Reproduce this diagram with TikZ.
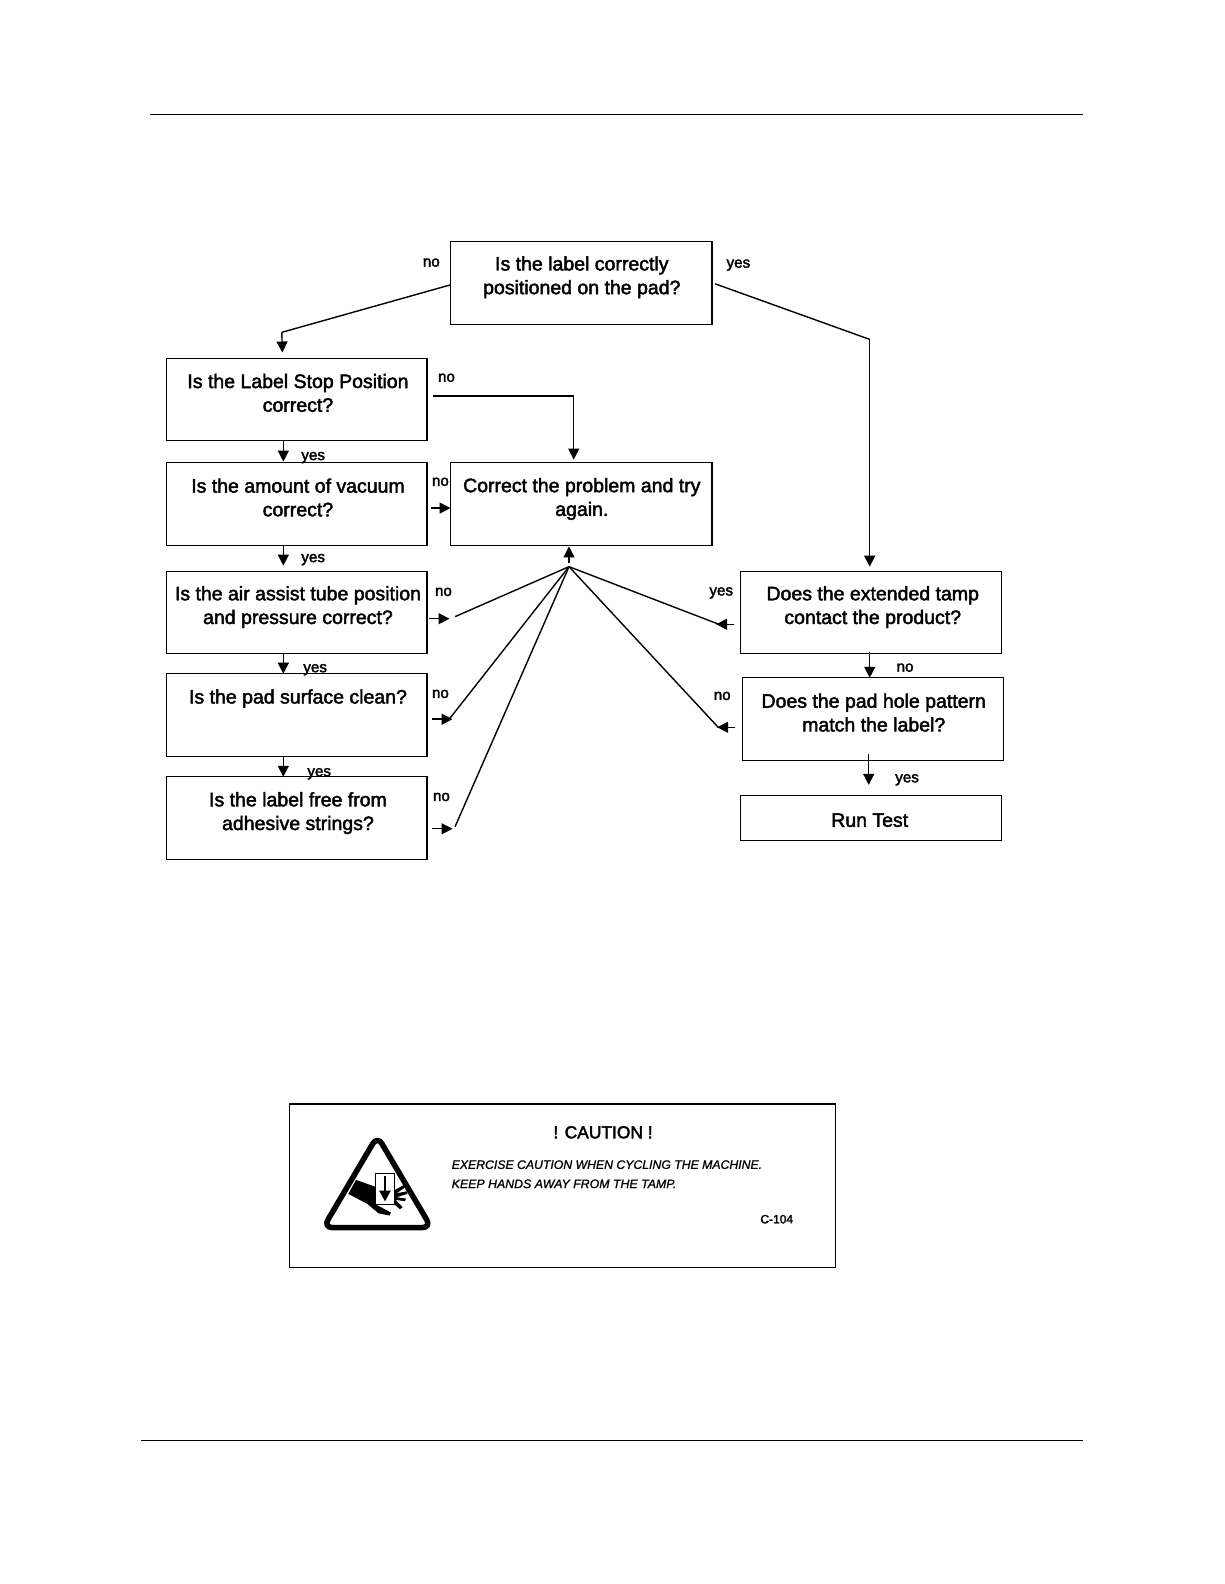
\documentclass[tikz,border=0pt]{standalone}
\usepackage{fontspec}
\setmainfont{Liberation Sans}
\newfontfamily\fatfont[FakeBold=2.2]{Liberation Sans}
\newfontfamily\fatital[ItalicFeatures={FakeBold=1.2}]{Liberation Sans}
\usetikzlibrary{arrows.meta}
\tikzset{
  x=1.0101pt,y=-1.0101pt,
  qbox/.style={draw=black,line width=1.2pt,inner sep=0pt,anchor=north west},
  qtext/.style={align=center,inner sep=0pt,font=\fontsize{19.5}{23.7}\fatfont},
  lab/.style={inner sep=0pt,font=\fontsize{15.2}{17}\fatfont},
  conn/.style={draw=black,line width=1.4pt},
  arr/.style={conn,-{Triangle[length=11pt,width=11pt]}},
  rulel/.style={draw=black,line width=0.9pt},
}
\begin{document}
\begin{tikzpicture}
\useasboundingbox (0,0) rectangle (1211.76,1568.16);
\fill[white] (0,0) rectangle (1211.76,1568.16);
\coordinate (r1a) at (148.5,113.5); \coordinate (r1b) at (1072,113.5);
\coordinate (r2a) at (140,1426); \coordinate (r2b) at (1072,1426);
\draw[rulel] (r1a) -- (r1b);
\draw[rulel] (r2a) -- (r2b);

% boxes
\node[qbox,minimum width=261.6pt,minimum height=82.8pt] (top) at (445.2,238.3) {};
\node[qbox,minimum width=260.6pt,minimum height=81.8pt] (q1) at (164.2,354.3) {};
\node[qbox,minimum width=260.6pt,minimum height=82.8pt] (q2) at (164.2,457.3) {};
\node[qbox,minimum width=260.6pt,minimum height=81.8pt] (q3) at (164.2,565.3) {};
\node[qbox,minimum width=260.6pt,minimum height=82.8pt] (q4) at (164.2,666.3) {};
\node[qbox,minimum width=260.6pt,minimum height=82.8pt] (q5) at (164.2,768.3) {};
\node[qbox,minimum width=261.6pt,minimum height=82.8pt] (fix) at (445.2,457.3) {};
\node[qbox,minimum width=261.1pt,minimum height=81.8pt] (ext) at (732.7,565.3) {};
\node[qbox,minimum width=261.6pt,minimum height=82.8pt] (pad) at (734.2,670.3) {};
\node[qbox,minimum width=261.6pt,minimum height=44.4pt] (run) at (732.2,787.3) {};
\node[qbox,minimum width=545.5pt,minimum height=163.2pt] (caution) at (286.2,1092.3) {};

% box texts
\node[qtext] (toptxt) at (576,274.5) {Is the label correctly\\positioned on the pad?};
\node[qtext] (q1txt) at (295,389) {Is the Label Stop Position\\correct?};
\node[qtext] (q2txt) at (295,492.5) {Is the amount of vacuum\\correct?};
\node[qtext] (q3txt) at (295,601) {Is the air assist tube position\\and pressure correct?};
\node[qtext] (q4txt) at (295,691.5) {Is the pad surface clean?};
\node[qtext] (q5txt) at (295,805) {Is the label free from\\adhesive strings?};
\node[qtext] (fixtxt) at (576,494) {Correct the problem and try\\again.};
\node[qtext] (exttxt) at (864,601) {Does the extended tamp\\contact the product?};
\node[qtext] (padtxt) at (865,705.5) {Does the pad hole pattern\\match the label?};
\node[qtext] (runtxt) at (861,812) {Run Test};

% labels
\node[lab] (l1) at (427,260) {no};
\node[lab] (l2) at (731,262.5) {yes};
\node[lab] (l3) at (442,374) {no};
\node[lab] (l4) at (310,453) {yes};
\node[lab] (l5) at (436,477) {no};
\node[lab] (l6) at (310,554) {yes};
\node[lab] (l7) at (439,586) {no};
\node[lab] (l8) at (312,663) {yes};
\node[lab] (l9) at (436,687) {no};
\node[lab] (l10) at (316,766) {yes};
\node[lab] (l11) at (437,789) {no};
\node[lab] (l12) at (714,587) {yes};
\node[lab] (l13) at (896,661) {no};
\node[lab] (l14) at (715,689) {no};
\node[lab] (l15) at (898,772) {yes};

% free connector ends
\coordinate (apex) at (563.3,561);
\coordinate (a1) at (446,282);
\coordinate (a2) at (279,329);
\coordinate (a3) at (279.5,349);
\coordinate (b1) at (708,281);
\coordinate (b2) at (861,336);
\coordinate (b3) at (861,561);
\coordinate (c1) at (429,392);
\coordinate (c2) at (568,392);
\coordinate (c3) at (568,455);
\draw[conn] (a1) -- (a2);
\draw[arr] (a2) -- (a3);
\draw[conn] (b1) -- (b2);
\draw[arr] (b2) -- (b3);
\draw[conn] (c1) -- (c2);
\draw[arr] (c2) -- (c3);

% yes chain
\coordinate (y1a) at (280.5,436); \coordinate (y1b) at (280.5,457);
\coordinate (y2a) at (280.5,540); \coordinate (y2b) at (280.5,560);
\coordinate (y3a) at (280.5,647); \coordinate (y3b) at (280.5,667);
\coordinate (y4a) at (280.5,749); \coordinate (y4b) at (280.5,769);
\coordinate (y5a) at (861,645);   \coordinate (y5b) at (861,671);
\coordinate (y6a) at (860,746);   \coordinate (y6b) at (860,777);
\draw[arr] (y1a) -- (y1b);
\draw[arr] (y2a) -- (y2b);
\draw[arr] (y3a) -- (y3b);
\draw[arr] (y4a) -- (y4b);
\draw[arr] (y5a) -- (y5b);
\draw[arr] (y6a) -- (y6b);

% no stubs
\coordinate (n2a) at (427,503); \coordinate (n2b) at (446,503);
\coordinate (n3a) at (425,612.5); \coordinate (n3b) at (445,612.5);
\coordinate (n4a) at (428,712); \coordinate (n4b) at (448,712);
\coordinate (n5a) at (428,820.5); \coordinate (n5b) at (448,820.5);
\coordinate (n6a) at (727,618); \coordinate (n6b) at (709,618);
\coordinate (n7a) at (728,720); \coordinate (n7b) at (710,720);
\draw[arr] (n2a) -- (n2b);
\draw[arr] (n3a) -- (n3b);
\draw[arr] (n4a) -- (n4b);
\draw[arr] (n5a) -- (n5b);
\draw[arr] (n6a) -- (n6b);
\draw[arr] (n7a) -- (n7b);

% fan
\coordinate (f3) at (450.5,610.5);
\coordinate (f4) at (445.5,711);
\coordinate (f5) at (450.5,818.4);
\coordinate (f6) at (717.8,620.4);
\coordinate (f7) at (711,720);
\coordinate (up) at (563.3,557);
\coordinate (upb) at (563.3,541);
\draw[arr] (up) -- (upb);
\draw[conn] (apex) -- (f3);
\draw[conn] (apex) -- (f4);
\draw[conn] (apex) -- (f5);
\draw[conn] (apex) -- (f6);
\draw[conn] (apex) -- (f7);

% caution texts
\node[inner sep=0pt,font=\fontsize{17.4}{20}\fatfont] (ctitle) at (597,1121) {! CAUTION !};
\node[inner sep=0pt,anchor=west,font=\fontsize{12.25}{15}\fatital\itshape] (cl1) at (447,1153) {EXERCISE CAUTION WHEN CYCLING THE MACHINE.};
\node[inner sep=0pt,anchor=west,font=\fontsize{12.35}{15}\fatital\itshape] (cl2) at (447,1172) {KEEP HANDS AWAY FROM THE TAMP.};
\node[inner sep=0pt,font=\fontsize{12}{14}\fatfont] (ccode) at (769,1207) {C-104};

% warning icon
\begin{scope}[shift={(277.2,1079)},x=0.3333pt,y=-0.3333pt]
  \draw[line width=5.5pt,line join=round,rounded corners=9pt] (292,138) -- (454,413) -- (130,413) -- cycle;
  \fill (228,270) -- (290,292) -- (290,345) -- (333,368) -- (328,377) -- (295,370) -- (262,342) -- (205,312) -- cycle;
  \draw[fill=white,line width=1pt] (287,250) rectangle (345,345);
  \draw[line width=2.6pt,-{Triangle[length=11pt,width=11pt]}] (315,258) -- (315,335);
  \fill (345,300) -- (372,285) -- (376,292) -- (350,310) -- (382,304) -- (382,312) -- (350,322) -- (378,326) -- (375,334) -- (347,330) -- (368,352) -- (360,358) -- (345,345) -- cycle;
\end{scope}
\end{tikzpicture}
\end{document}
